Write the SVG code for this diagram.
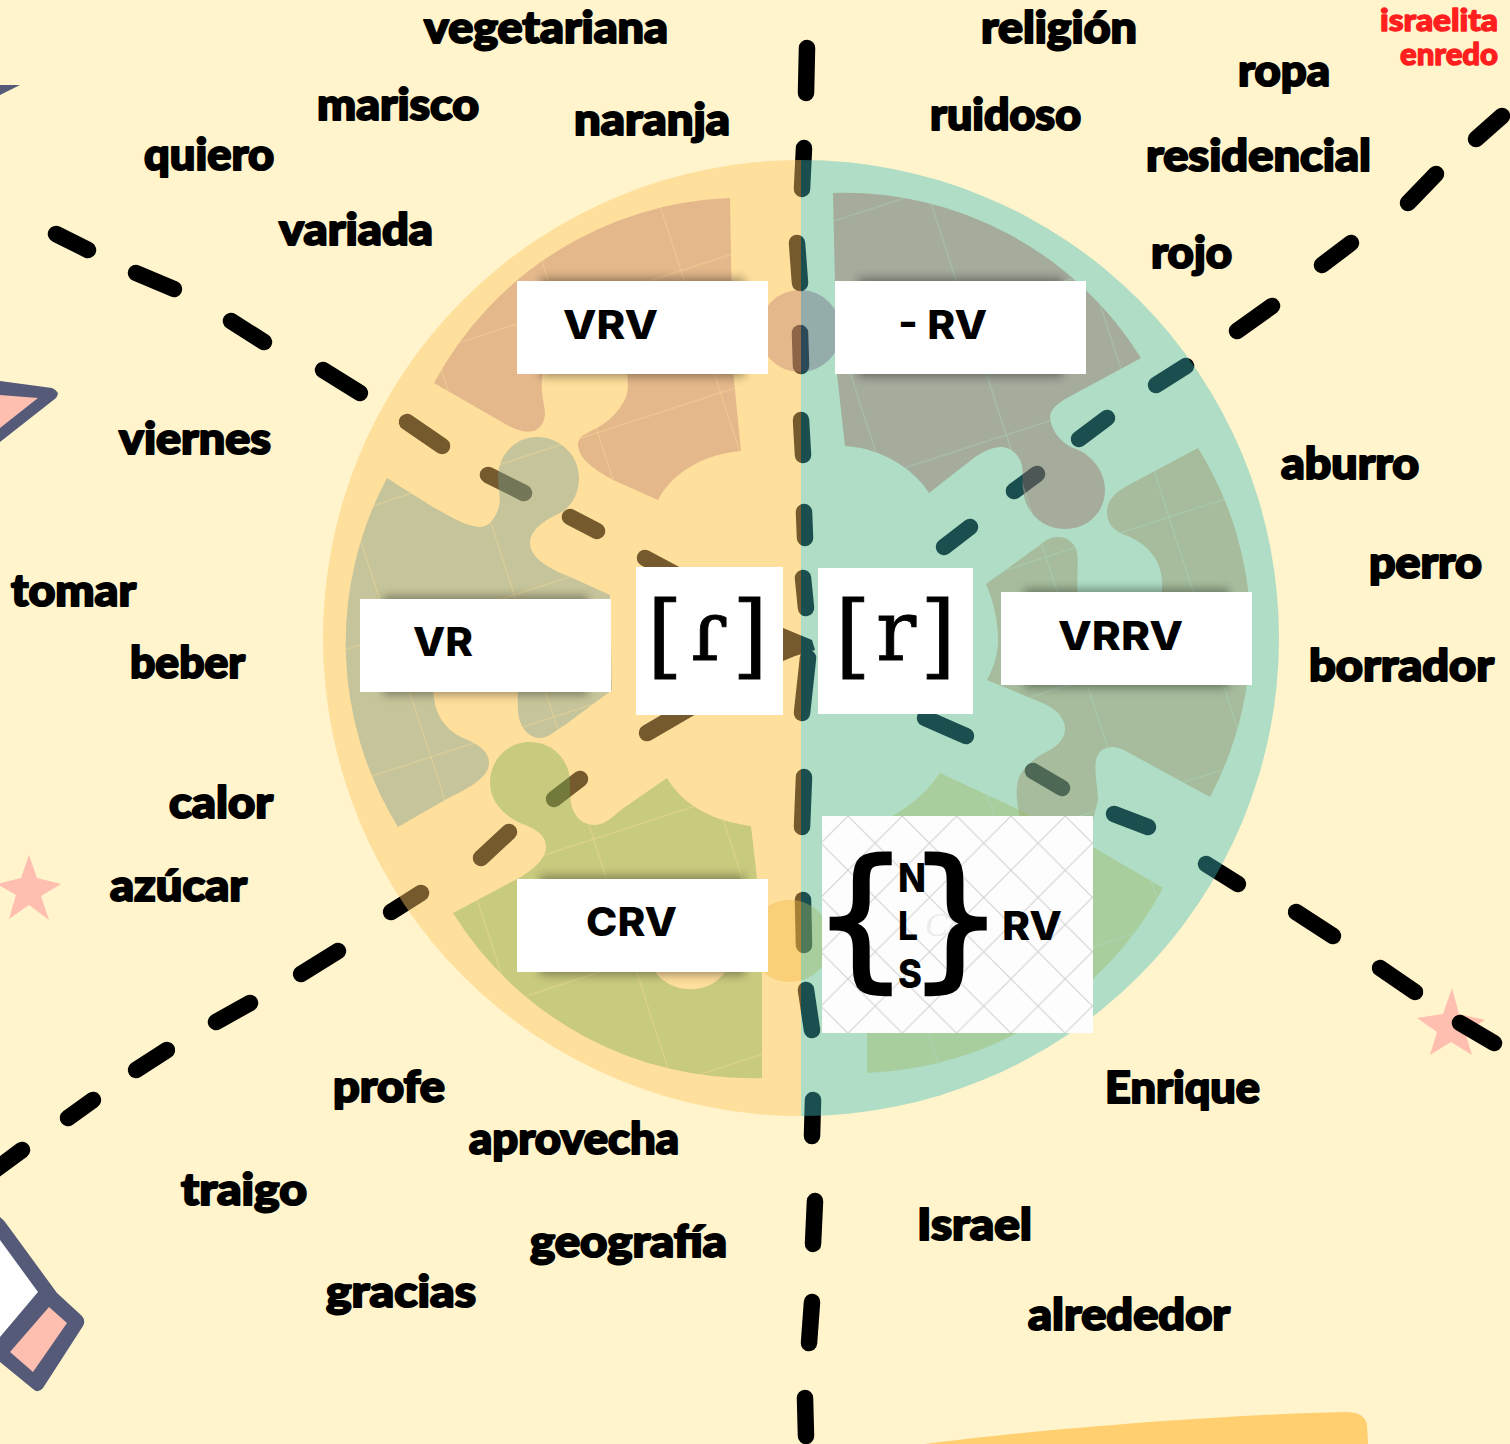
<svg xmlns="http://www.w3.org/2000/svg" width="1510" height="1444" viewBox="0 0 1510 1444">
  <style>
    .word { font-family: "Lato", "Liberation Sans", sans-serif; font-weight: 900; font-size: 43px; fill: #000; stroke: #000; stroke-width: 2px; stroke-linejoin: round; }
    .red { font-size: 31px; fill: #ff1f1f; stroke: #ff1f1f; stroke-width: 1.4px; }
    .label { font-family: "Inter", "Liberation Sans", sans-serif; font-weight: 800; font-size: 40px; fill: #000; }
    .box { fill: #fff; }
    .shade { fill: #000; opacity: .36; filter: url(#soft); }
    .dash { fill: none; stroke: #000; stroke-width: 16.5; stroke-linecap: round; stroke-linejoin: round; }
    .ink { fill: #545a78; }
    .pink { fill: #ffbfb0; }
    .ipa { font-family: "DejaVu Serif", "Liberation Serif", serif; font-size: 92px; fill: #000; stroke: #000; stroke-width: .8px; }
    .small { font-size: 84px; }
    .brace { font-family: "DejaVu Sans", sans-serif; font-weight: 400; font-size: 153px; fill: #000; stroke: #000; stroke-width: 3px; }
    .grid { fill: none; stroke-width: 1.6; }
  </style>
  <defs>
    <filter id="soft" x="-10%" y="-40%" width="120%" height="180%"><feGaussianBlur stdDeviation="5"/></filter>
    <pattern id="watermark" patternUnits="userSpaceOnUse" x="848" y="816" width="54.3" height="54.3">
      <path d="M0,0L54.3,54.3M54.3,0L0,54.3" stroke="#cfcfcf" stroke-width="1" fill="none"/>
    </pattern>
    <clipPath id="leftSide"><rect x="0" y="0" width="801" height="1444"/></clipPath>
    <clipPath id="rightSide"><rect x="801" y="0" width="709" height="1444"/></clipPath>
    <path id="pieceTL" d="M730,198 A350,350 0 0 0 434,383 L507,425 C520,432 535,436 542,424 C548,414 543,405 542,392 C541,384 543,378 543,365 L627,365 C627,375 629,385 627,393 C623,410 605,424 597,428 C585,434 578,436 578,445 C579,458 590,467 613,480 L658,500 C668,480 695,455 741,451 L733,370 Z"/>
    <path id="pieceTR" d="M833,193 A350,350 0 0 1 1141,358 L1067,398 C1055,405 1050,411 1050,417 C1051,430 1060,442 1073,448 C1090,453 1105,470 1105,490 C1105,512 1088,529 1065,529 C1042,529 1025,512 1023,490 C1022,478 1024,470 1021,462 C1017,452 1008,446 1000,447 C990,448 983,452 975,457 L929,493 C917,473 885,448 845,446 L837,374 Z"/>
    <path id="pieceML" d="M387,478 A350,350 0 0 0 398,827 L445,800 C460,792 489,780 489,763 C489,752 480,746 470,741 C455,735 435,725 433,690 L433,680 L518,680 C518,695 517,710 519,718 C522,730 530,738 540,738 C548,738 555,731 565,725 L612,690 L610,595 L568,576 C550,569 530,558 530,543 C530,530 545,520 558,514 C570,509 579,495 579,478 C579,455 560,437 537,437 C515,437 498,455 498,478 C498,490 502,498 498,510 C493,522 487,527 480,527 C465,527 440,512 387,478 Z"/>
    <path id="pieceMR" d="M986,584 L1040,545 C1045,540 1052,537 1057,537 C1070,537 1075,545 1077,552 C1079,565 1076,575 1078,600 L1162,600 L1162,583 C1162,560 1147,543 1125,535 C1112,530 1107,522 1107,512 C1107,503 1112,495 1125,487 L1198,448 A350,350 0 0 1 1210,797 L1133,755 C1125,750 1118,747 1113,747 C1103,747 1098,752 1096,760 C1094,772 1098,790 1098,800 L1093,820 L1020,820 C1018,805 1015,795 1018,780 C1023,765 1040,755 1050,750 C1060,745 1066,735 1065,727 C1063,715 1055,708 1040,702 L987,680 C995,665 999,650 998,635 C997,615 992,598 986,584 Z"/>
    <path id="pieceBL" d="M667,778 C680,800 705,820 751,826 L757,879 L762,978 L762,1078 A350,350 0 0 1 453,913 L517,879 C530,872 546,860 546,847 C546,835 535,828 520,823 C505,816 490,802 490,783 C490,760 507,742 530,742 C552,742 570,760 570,782 C570,795 570,805 574,812 C578,820 585,825 595,825 C605,825 613,816 625,807 Z M655,965 L725,965 L725,972 C710,995 672,995 655,972 Z"/>
    <path id="pieceBR" d="M885,820 C905,810 925,795 940,773 L1013,807 L1093,847 L1163,888 A350,350 0 0 1 867,1073 L867,1033 L830,1033 L830,820 Z"/>
    <clipPath id="piecesLeft">
      <use href="#pieceTL" clip-rule="evenodd"/><use href="#pieceML" clip-rule="evenodd"/><use href="#pieceBL" clip-rule="evenodd"/>
    </clipPath>
    <clipPath id="piecesRight">
      <use href="#pieceTR" clip-rule="evenodd"/><use href="#pieceMR" clip-rule="evenodd"/><use href="#pieceBR" clip-rule="evenodd"/>
    </clipPath>
    <g id="gridLines">
      <path d="M300,259.5L1300,-65.5M300,394.5L1300,69.5M300,529.5L1300,204.5M300,664.5L1300,339.5M300,799.5L1300,474.5M300,934.5L1300,609.5M300,1069.5L1300,744.5M300,1204.5L1300,879.5"/>
      <path d="M217.6,100L558.5,1150M353.6,100L694.5,1150M489.6,100L830.5,1150M625.6,100L966.5,1150M761.6,100L1102.5,1150M897.6,100L1238.5,1150M1033.6,100L1374.5,1150M1169.6,100L1510.5,1150"/>
    </g>
  </defs>

  <rect width="1510" height="1444" fill="#fff4cc"/>

  <!-- pencils, stars and the paint stroke along the edges -->
  <path class="ink" d="M0,85 L20,85 L0,95 Z"/>
  <path class="ink" d="M0,381 L52,388 Q61,392 56,398 L0,442 Z"/>
  <path class="pink" d="M0,395 L38,398 L0,428 Z"/>
  <path class="ink" d="M0,1217 Q4,1220 8,1226 L57,1293 L82,1316 Q86,1321 83,1326 L43,1388 Q38,1394 33,1389 L0,1362 Z"/>
  <path fill="#fff" d="M0,1240 L38,1292 L0,1337 Z"/>
  <path class="pink" d="M49,1307 L67,1323 L33,1372 L10,1352 Z"/>
  <polygon class="pink" points="29,855 37,878 61,884 41,896 49,920 29,905 9,919 16,895 -3,884 21,878"/>
  <polygon class="pink" points="1452,988 1459,1014 1485,1020 1465,1032 1472,1055 1451,1042 1430,1055 1437,1032 1417,1018 1443,1014"/>
  <path fill="#ffcf70" d="M925,1444 C1050,1428 1240,1414 1345,1412 Q1365,1412 1367,1425 L1368,1444 Z"/>

  <g id="connectors">
    <g class="dash">
      <path d="M807,48 L806,93"/><path d="M804,148 L802,189"/><path d="M797,243 L800,283"/><path d="M800,333 L801,366"/>
      <path d="M801,420 L803,455"/><path d="M804,512 L805,538"/><path d="M803,578 L806,608"/><path d="M808,658 L802,713"/>
      <path d="M804,777 L802,827"/><path d="M803,900 L804,945"/><path d="M806,990 L812,1030"/><path d="M813,1100 L812,1136"/>
      <path d="M815,1201 L813,1244"/><path d="M812,1302 L809,1343"/><path d="M805,1398 L806,1436"/>
      <path d="M56,234 L88,250"/><path d="M136,273 L174,289"/><path d="M231,321 L264,342"/><path d="M323,370 L360,393"/>
      <path d="M407,422 L442,446"/><path d="M488,475 L524,493"/><path d="M570,517 L597,531"/><path d="M645,558 L690,582"/>
      <path d="M925,718 L966,736"/><path d="M1033,771 L1062,788"/><path d="M1114,814 L1148,827"/><path d="M1206,864 L1238,884"/>
      <path d="M1296,912 L1333,936"/><path d="M1380,968 L1415,992"/><path d="M1460,1023 L1494,1043"/>
      <path d="M1502,116 L1476,139"/><path d="M1436,174 L1408,203"/><path d="M1351,243 L1322,265"/><path d="M1272,306 L1237,331"/>
      <path d="M1186,366 L1156,385"/><path d="M1107,418 L1079,439"/><path d="M1037,474 L1014,491"/><path d="M970,527 L944,547"/>
      <path d="M695,705 L647,733"/><path d="M580,779 L554,799"/><path d="M509,832 L481,858"/><path d="M421,893 L391,912"/>
      <path d="M338,951 L301,974"/><path d="M250,1003 L216,1022"/><path d="M167,1050 L136,1070"/><path d="M93,1100 L68,1118"/><path d="M22,1150 L-5,1170"/>
    </g>
    <path fill="#000" d="M783,628 L812,640 L815,650 L795,656 L783,661 Z"/>
  </g>

  <!-- the divided circle -->
  <path fill="#ffc663" fill-opacity=".455" d="M801,160 A478,478 0 0 0 801,1116 Z"/>
  <path fill="#40bcbc" fill-opacity=".42" d="M801,160 A478,478 0 0 1 801,1116 Z"/>

  <!-- puzzle pieces -->
  <use href="#pieceTL" fill="#b87971" fill-opacity=".38"/>
  <use href="#pieceTR" fill="#976660" fill-opacity=".41"/>
  <use href="#pieceML" fill="#759e97" fill-opacity=".41"/>
  <use href="#pieceMR" fill="#9a8d62" fill-opacity=".41"/>
  <use href="#pieceBL" fill="#71a950" fill-opacity=".39" fill-rule="evenodd"/>
  <use href="#pieceBR" fill="#a0b964" fill-opacity=".4"/>
  <circle cx="800" cy="331" r="41" fill="#b87971" fill-opacity=".38" clip-path="url(#leftSide)"/>
  <circle cx="800" cy="331" r="41" fill="#573c6e" fill-opacity=".3" clip-path="url(#rightSide)"/>
  <circle cx="790" cy="941" r="41" fill="#f0b941" fill-opacity=".4" clip-path="url(#leftSide)"/>
  <circle cx="790" cy="941" r="41" fill="#a0b964" fill-opacity=".4" clip-path="url(#rightSide)"/>
  <g clip-path="url(#piecesLeft)"><use href="#gridLines" class="grid" stroke="#ffe09b" stroke-opacity=".3"/></g>
  <g clip-path="url(#piecesRight)"><use href="#gridLines" class="grid" stroke="#addec5" stroke-opacity=".3"/></g>

  <g id="node-vrv">
    <rect class="shade" x="540" y="278" width="205" height="99"/>
    <rect class="box" x="517" y="281" width="251" height="93"/>
    <text class="label" x="563" y="339" textLength="95" lengthAdjust="spacingAndGlyphs">VRV</text>
  </g>
  <g id="node-rv">
    <rect class="shade" x="858" y="278" width="205" height="99"/>
    <rect class="box" x="835" y="281" width="251" height="93"/>
    <text class="label" x="898" y="339" textLength="89" lengthAdjust="spacingAndGlyphs">- RV</text>
  </g>
  <g id="node-vr">
    <rect class="shade" x="383" y="596" width="205" height="99"/>
    <rect class="box" x="360" y="599" width="251" height="93"/>
    <text class="label" x="413" y="656" textLength="60" lengthAdjust="spacingAndGlyphs">VR</text>
  </g>
  <g id="node-vrrv">
    <rect class="shade" x="1024" y="589" width="205" height="99"/>
    <rect class="box" x="1001" y="592" width="251" height="93"/>
    <text class="label" x="1058" y="650" textLength="125" lengthAdjust="spacingAndGlyphs">VRRV</text>
  </g>
  <g id="node-crv">
    <rect class="shade" x="540" y="876" width="205" height="99"/>
    <rect class="box" x="517" y="879" width="251" height="93"/>
    <text class="label" x="586" y="936" textLength="91" lengthAdjust="spacingAndGlyphs">CRV</text>
  </g>
  <g id="node-tap">
    <rect class="box" x="636" y="567" width="147" height="148"/>
    <text class="ipa" x="647 690 732" y="667 660 667">[<tspan class="small">ɾ</tspan>]</text>
  </g>
  <g id="node-trill">
    <rect class="box" x="818" y="568" width="155" height="146"/>
    <text class="ipa" x="835 876 920" y="667 660 667">[<tspan class="small">r</tspan>]</text>
  </g>
  <g id="node-nls">
    <rect x="822" y="816" width="271" height="217" fill="#fdfdfd"/>
    <rect x="822" y="816" width="271" height="217" fill="url(#watermark)"/>
    <text x="925" y="936" font-family="Liberation Serif, serif" font-style="italic" font-size="34" fill="#ececec">Ca</text>
    <text class="brace" x="812" y="970">{</text>
    <text class="brace" x="907" y="970">}</text>
    <text class="label" x="898" y="892" textLength="28" lengthAdjust="spacingAndGlyphs">N</text>
    <text class="label" x="898" y="940" textLength="20" lengthAdjust="spacingAndGlyphs">L</text>
    <text class="label" x="898" y="988" textLength="24" lengthAdjust="spacingAndGlyphs">S</text>
    <text class="label" x="1002" y="940" textLength="60" lengthAdjust="spacingAndGlyphs">RV</text>
  </g>

  <g id="words">
    <text class="word" x="424" y="43" textLength="244" lengthAdjust="spacingAndGlyphs">vegetariana</text>
    <text class="word" x="317" y="120" textLength="162" lengthAdjust="spacingAndGlyphs">marisco</text>
    <text class="word" x="574" y="135" textLength="156" lengthAdjust="spacingAndGlyphs">naranja</text>
    <text class="word" x="144" y="170" textLength="130" lengthAdjust="spacingAndGlyphs">quiero</text>
    <text class="word" x="279" y="245" textLength="154" lengthAdjust="spacingAndGlyphs">variada</text>
    <text class="word" x="119" y="454" textLength="152" lengthAdjust="spacingAndGlyphs">viernes</text>
    <text class="word" x="11" y="606" textLength="125" lengthAdjust="spacingAndGlyphs">tomar</text>
    <text class="word" x="130" y="678" textLength="115" lengthAdjust="spacingAndGlyphs">beber</text>
    <text class="word" x="169" y="818" textLength="104" lengthAdjust="spacingAndGlyphs">calor</text>
    <text class="word" x="110" y="901" textLength="137" lengthAdjust="spacingAndGlyphs">azúcar</text>
    <text class="word" x="981" y="43" textLength="156" lengthAdjust="spacingAndGlyphs">religión</text>
    <text class="word" x="930" y="130" textLength="151" lengthAdjust="spacingAndGlyphs">ruidoso</text>
    <text class="word" x="1238" y="86" textLength="92" lengthAdjust="spacingAndGlyphs">ropa</text>
    <text class="word" x="1146" y="171" textLength="225" lengthAdjust="spacingAndGlyphs">residencial</text>
    <text class="word" x="1151" y="268" textLength="81" lengthAdjust="spacingAndGlyphs">rojo</text>
    <text class="word" x="1281" y="479" textLength="138" lengthAdjust="spacingAndGlyphs">aburro</text>
    <text class="word" x="1369" y="578" textLength="113" lengthAdjust="spacingAndGlyphs">perro</text>
    <text class="word" x="1309" y="681" textLength="185" lengthAdjust="spacingAndGlyphs">borrador</text>
    <text class="word" x="333" y="1102" textLength="112" lengthAdjust="spacingAndGlyphs">profe</text>
    <text class="word" x="469" y="1154" textLength="210" lengthAdjust="spacingAndGlyphs">aprovecha</text>
    <text class="word" x="181" y="1205" textLength="126" lengthAdjust="spacingAndGlyphs">traigo</text>
    <text class="word" x="530" y="1257" textLength="197" lengthAdjust="spacingAndGlyphs">geografía</text>
    <text class="word" x="326" y="1307" textLength="150" lengthAdjust="spacingAndGlyphs">gracias</text>
    <text class="word" x="1105" y="1103" textLength="155" lengthAdjust="spacingAndGlyphs">Enrique</text>
    <text class="word" x="917" y="1240" textLength="115" lengthAdjust="spacingAndGlyphs">Israel</text>
    <text class="word" x="1028" y="1330" textLength="202" lengthAdjust="spacingAndGlyphs">alrededor</text>
    <text class="word red" x="1380" y="31" textLength="118" lengthAdjust="spacingAndGlyphs">israelita</text>
    <text class="word red" x="1400" y="65" textLength="98" lengthAdjust="spacingAndGlyphs">enredo</text>
  </g>
</svg>
